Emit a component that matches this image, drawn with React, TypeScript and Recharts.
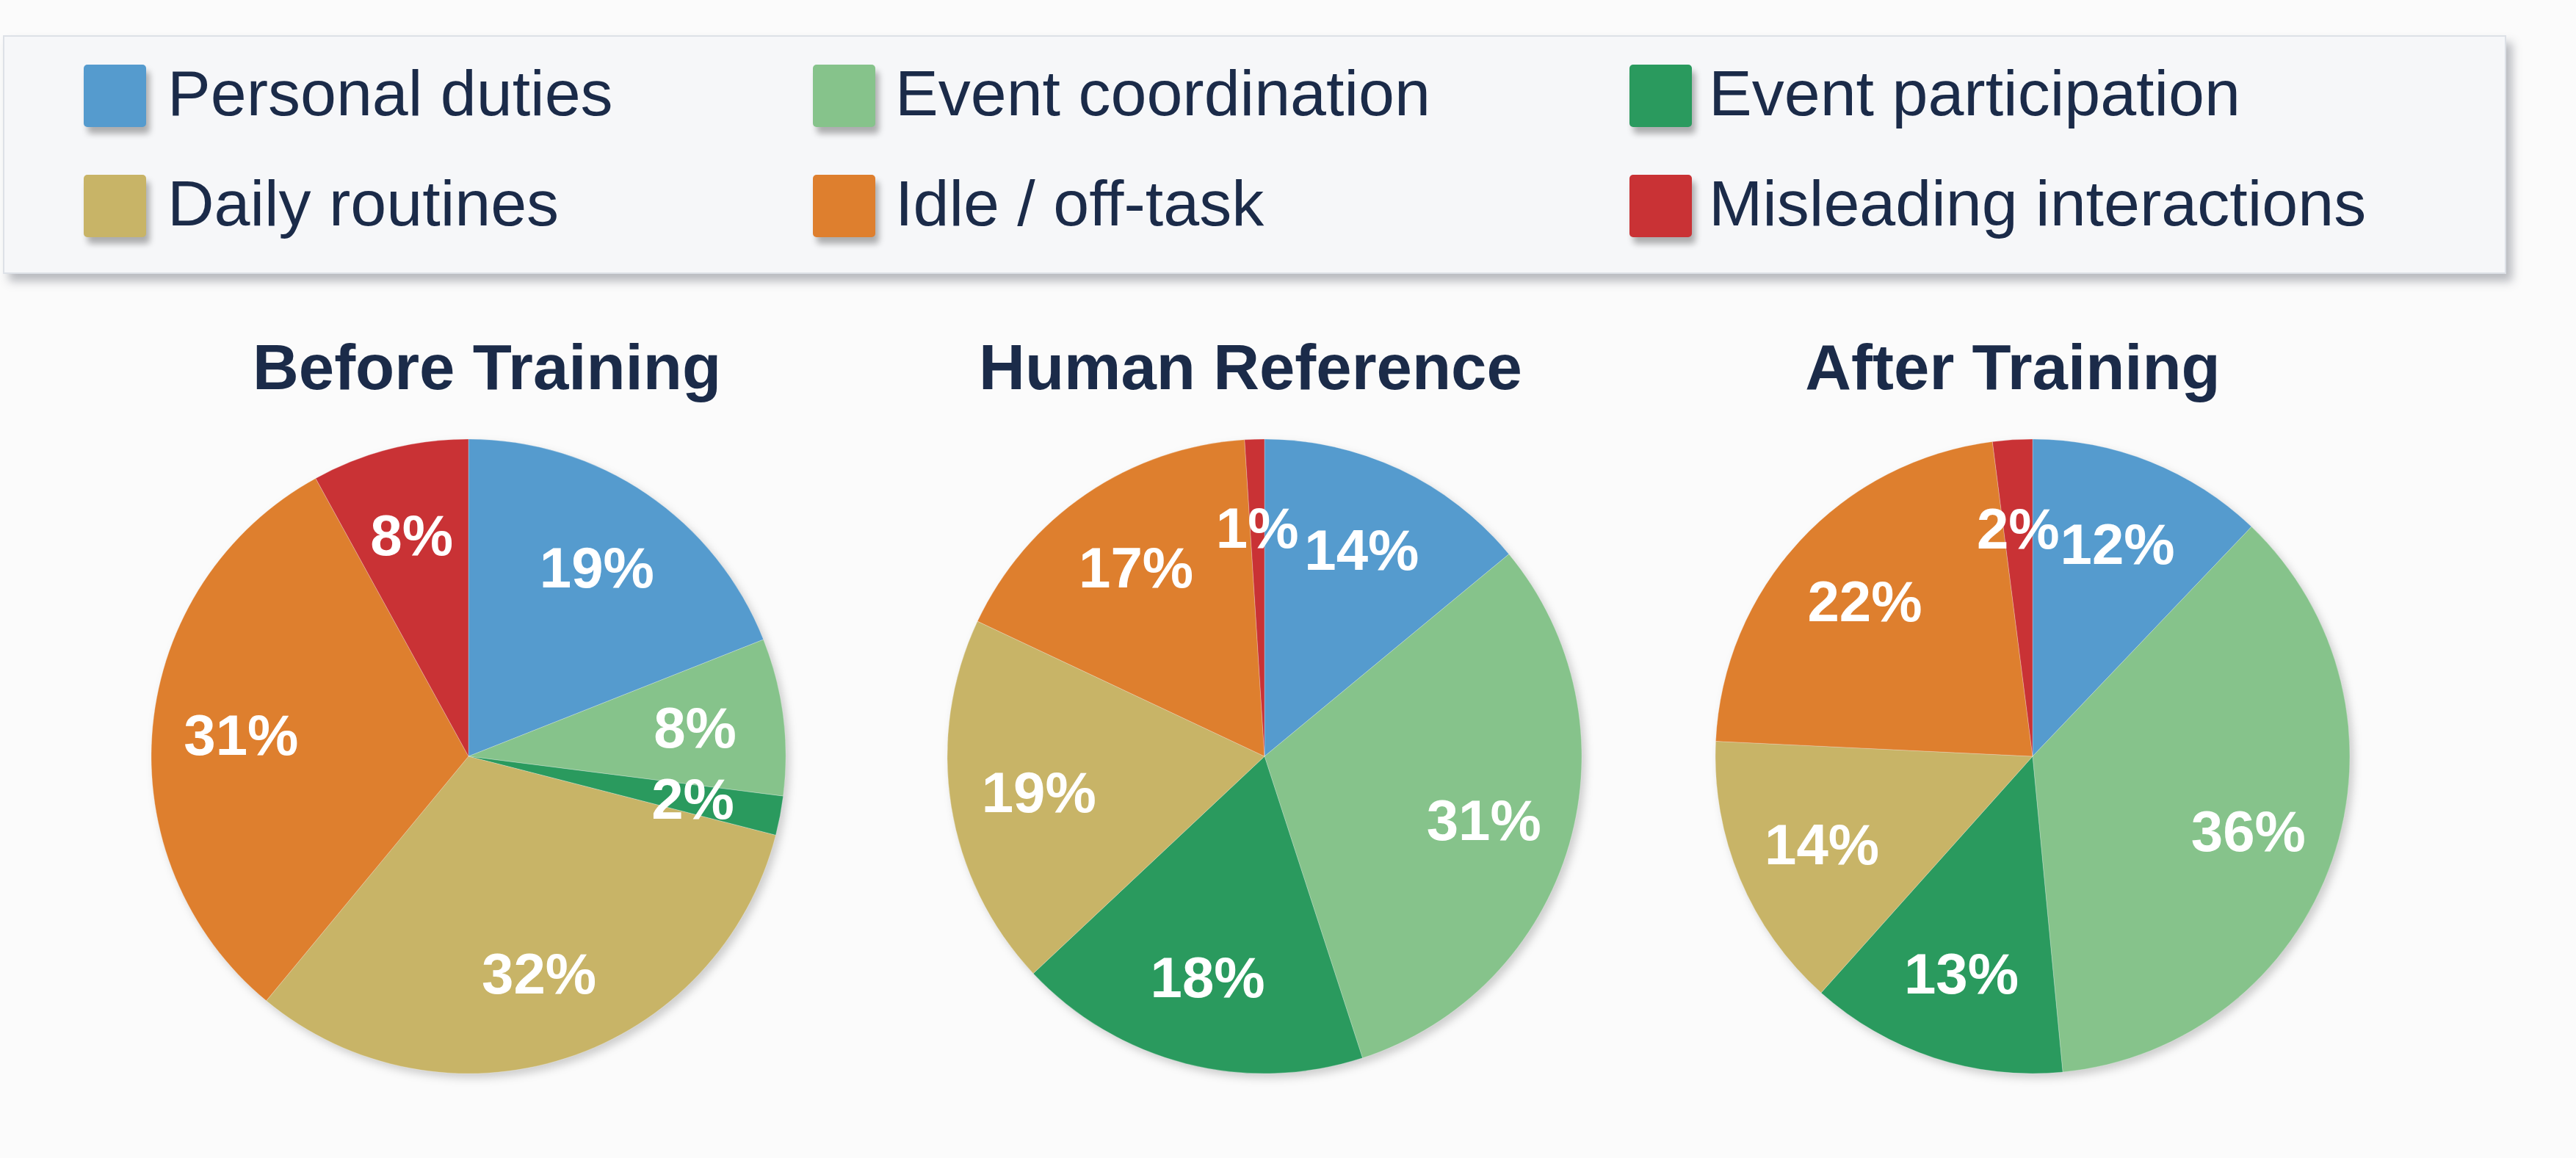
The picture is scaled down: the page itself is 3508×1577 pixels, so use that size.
import { Cell, Pie, PieChart } from "recharts"

const categories = [
  "Personal duties",
  "Event coordination",
  "Event participation",
  "Daily routines",
  "Idle / off-task",
  "Misleading interactions",
]
const colors = ["#559bce", "#86c38b", "#2a9a5e", "#c8b467", "#de7f2e", "#c93235"]

const beforeTraining = [19, 8, 2, 32, 31, 8]
const humanReference = [14, 31, 18, 19, 17, 1]
const afterTraining = [12, 36, 13, 14, 22, 2]

const panelTitles = ["Before Training", "Human Reference", "After Training"]

const RAD = Math.PI / 180
const NAVY = "#1b2b49"
const FONT = "'Liberation Sans', Arial, Helvetica, sans-serif"

const panels = [
  { title: panelTitles[0], values: beforeTraining, cx: 638, titleX: 663 },
  { title: panelTitles[1], values: humanReference, cx: 1722, titleX: 1703 },
  { title: panelTitles[2], values: afterTraining, cx: 2768, titleX: 2741 },
]

const CHART_TOP = 400
const CY = 630
const RADIUS = 432

const legendCols = [
  { swatch: 114, text: 228 },
  { swatch: 1107, text: 1219 },
  { swatch: 2219, text: 2327 },
]
const legendRows = [88, 238]

function renderLabel(props: any) {
  const { cx, cy, midAngle, outerRadius, value } = props
  const r = outerRadius * 0.72
  const x = cx + r * Math.cos(-midAngle * RAD)
  const y = cy + r * Math.sin(-midAngle * RAD)
  return (
    <text
      x={x}
      y={y}
      fill="#ffffff"
      textAnchor="middle"
      dominantBaseline="central"
      fontFamily={FONT}
      fontWeight="bold"
      fontSize={78}
    >
      {`${value}%`}
    </text>
  )
}

function LegendBox() {
  return (
    <div
      style={{
        position: "absolute",
        left: 4,
        top: 48,
        width: 3405,
        height: 321,
        background: "#f6f7f9",
        border: "2px solid #dde1e7",
        boxShadow: "8px 10px 12px rgba(60,65,80,0.35)",
      }}
    >
      {categories.map((name, i) => {
        const col = legendCols[i % 3]
        const top = legendRows[Math.floor(i / 3)] - 50
        return (
          <div key={name}>
            <div
              style={{
                position: "absolute",
                left: col.swatch - 6,
                top,
                width: 85,
                height: 85,
                borderRadius: 5,
                background: colors[i],
                boxShadow: "5px 9px 9px rgba(0,0,0,0.3)",
              }}
            />
            <div
              style={{
                position: "absolute",
                left: col.text - 6,
                top: top - 6,
                fontFamily: FONT,
                fontSize: 88,
                lineHeight: "90px",
                color: NAVY,
                whiteSpace: "nowrap",
              }}
            >
              {name}
            </div>
          </div>
        )
      })}
    </div>
  )
}

export default function App() {
  return (
    <div
      style={{
        position: "absolute",
        left: 0,
        top: 0,
        width: 3508,
        height: 1577,
        background: "#fbfbfb",
        overflow: "hidden",
      }}
    >
      <LegendBox />
      {panels.map((p) => (
        <div
          key={p.title}
          style={{
            position: "absolute",
            left: p.titleX - 500,
            top: 455,
            width: 1000,
            textAlign: "center",
            fontFamily: FONT,
            fontWeight: "bold",
            fontSize: 87,
            lineHeight: "90px",
            color: NAVY,
          }}
        >
          {p.title}
        </div>
      ))}
      <div
        style={{
          position: "absolute",
          left: 0,
          top: CHART_TOP,
          filter: "drop-shadow(5px 6px 6px rgba(0,0,0,0.18))",
        }}
      >
        <PieChart width={3508} height={1177} margin={{ top: 0, right: 0, bottom: 0, left: 0 }}>
          {panels.map((p) => (
            <Pie
              key={p.title}
              data={p.values.map((v, i) => ({ name: categories[i], value: v }))}
              dataKey="value"
              cx={p.cx}
              cy={CY}
              outerRadius={RADIUS}
              startAngle={90}
              endAngle={-270}
              stroke="rgba(255,255,255,0.25)"
              strokeWidth={1}
              labelLine={false}
              label={renderLabel}
              isAnimationActive={false}
            >
              {p.values.map((_, i) => (
                <Cell key={`cell-${i}`} fill={colors[i]} />
              ))}
            </Pie>
          ))}
        </PieChart>
      </div>
    </div>
  )
}
